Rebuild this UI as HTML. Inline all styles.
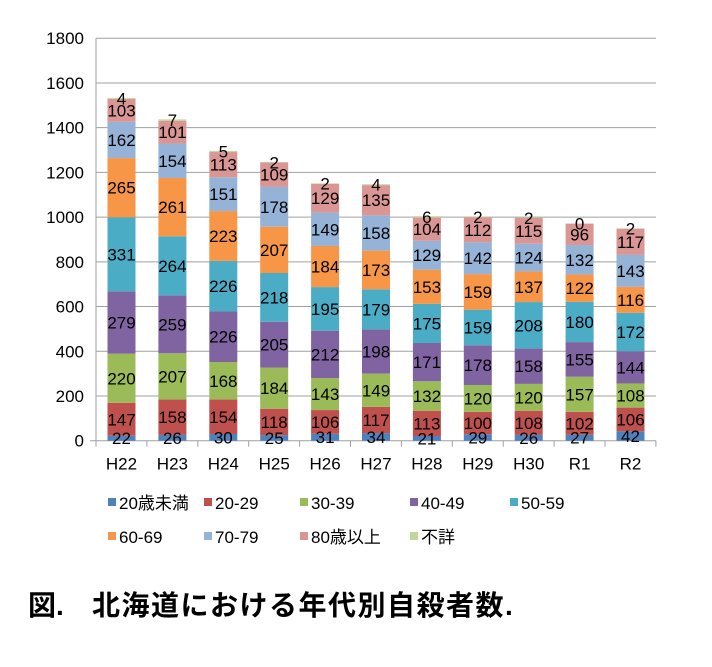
<!DOCTYPE html><html><head><meta charset="utf-8"><style>body{margin:0;background:#fff}svg{display:block}</style></head><body>
<svg id="s" width="712" height="667" xmlns="http://www.w3.org/2000/svg" font-family="Liberation Sans, Noto Sans CJK JP, sans-serif"></svg>
<script>
const s=document.getElementById('s');
const d=[["H22",[22,147,220,279,331,265,162,103,4]],["H23",[26,158,207,259,264,261,154,101,7]],["H24",[30,154,168,226,226,223,151,113,5]],["H25",[25,118,184,205,218,207,178,109,2]],["H26",[31,106,143,212,195,184,149,129,2]],["H27",[34,117,149,198,179,173,158,135,4]],["H28",[21,113,132,171,175,153,129,104,6]],["H29",[29,100,120,178,159,159,142,112,2]],["H30",[26,108,120,158,208,137,124,115,2]],["R1",[27,102,157,155,180,122,132,96,0]],["R2",[42,106,108,144,172,116,143,117,2]]];
const c=["#4f81bd","#c0504d","#9bbb59","#8064a2","#4bacc6","#f79646","#95b3d7","#d99694","#c3d69b"];
const names=["20歳未満","20-29","30-39","40-49","50-59","60-69","70-79","80歳以上","不詳"];
let h='';const y0=440.7,k=0.2236,x0=96,st=50.9,R=656;
for(let v=0;v<=1800;v+=200){const y=y0-v*k;h+=`<line x1="${v?x0:x0-6}" x2="${R}" y1="${y}" y2="${y}" stroke="#a0a0a0" stroke-width="1"/><text x="${x0-12}" y="${y+6}" text-anchor="end" font-size="17">${v}</text>`;}
h+=`<line x1="${x0}" x2="${x0}" y1="${y0-1800*k}" y2="${y0}" stroke="#a0a0a0"/>`;
for(let i=0;i<=11;i++){const x=x0+st*i;h+=`<line x1="${x}" x2="${x}" y1="${y0}" y2="${y0+6}" stroke="#a0a0a0"/>`;}
d.forEach((b,i)=>{const cx=121.5+st*i;let cum=0;b[1].forEach((v,j)=>{const yt=y0-(cum+v)*k,hh=v*k;h+=`<rect x="${cx-14}" y="${yt}" width="28" height="${hh}" fill="${c[j]}"/>`;cum+=v;});
cum=0;b[1].forEach((v,j)=>{const ym=y0-(cum+v/2)*k;h+=`<text x="${cx}" y="${ym+6}" text-anchor="middle" font-size="17">${v}</text>`;cum+=v;});
h+=`<text x="${cx}" y="${y0+29}" text-anchor="middle" font-size="17">${b[0]}</text>`;});
const lp=[[108,503],[204,503],[300,503],[410,503],[510,503],[108,537],[204,537],[300,537],[410,537]];
lp.forEach((p,j)=>{h+=`<rect x="${p[0]}" y="${p[1]-5}" width="8" height="8" fill="${c[j]}"/><text x="${p[0]+11}" y="${p[1]+6}" font-size="17">${names[j]}</text>`;});
h+=`<text x="28" y="615" font-size="28" font-weight="bold">図.</text><text x="92" y="615" font-size="28" font-weight="bold" letter-spacing="1.5">北海道における年代別自殺者数.</text>`;
s.innerHTML=h;
</script></body></html>
